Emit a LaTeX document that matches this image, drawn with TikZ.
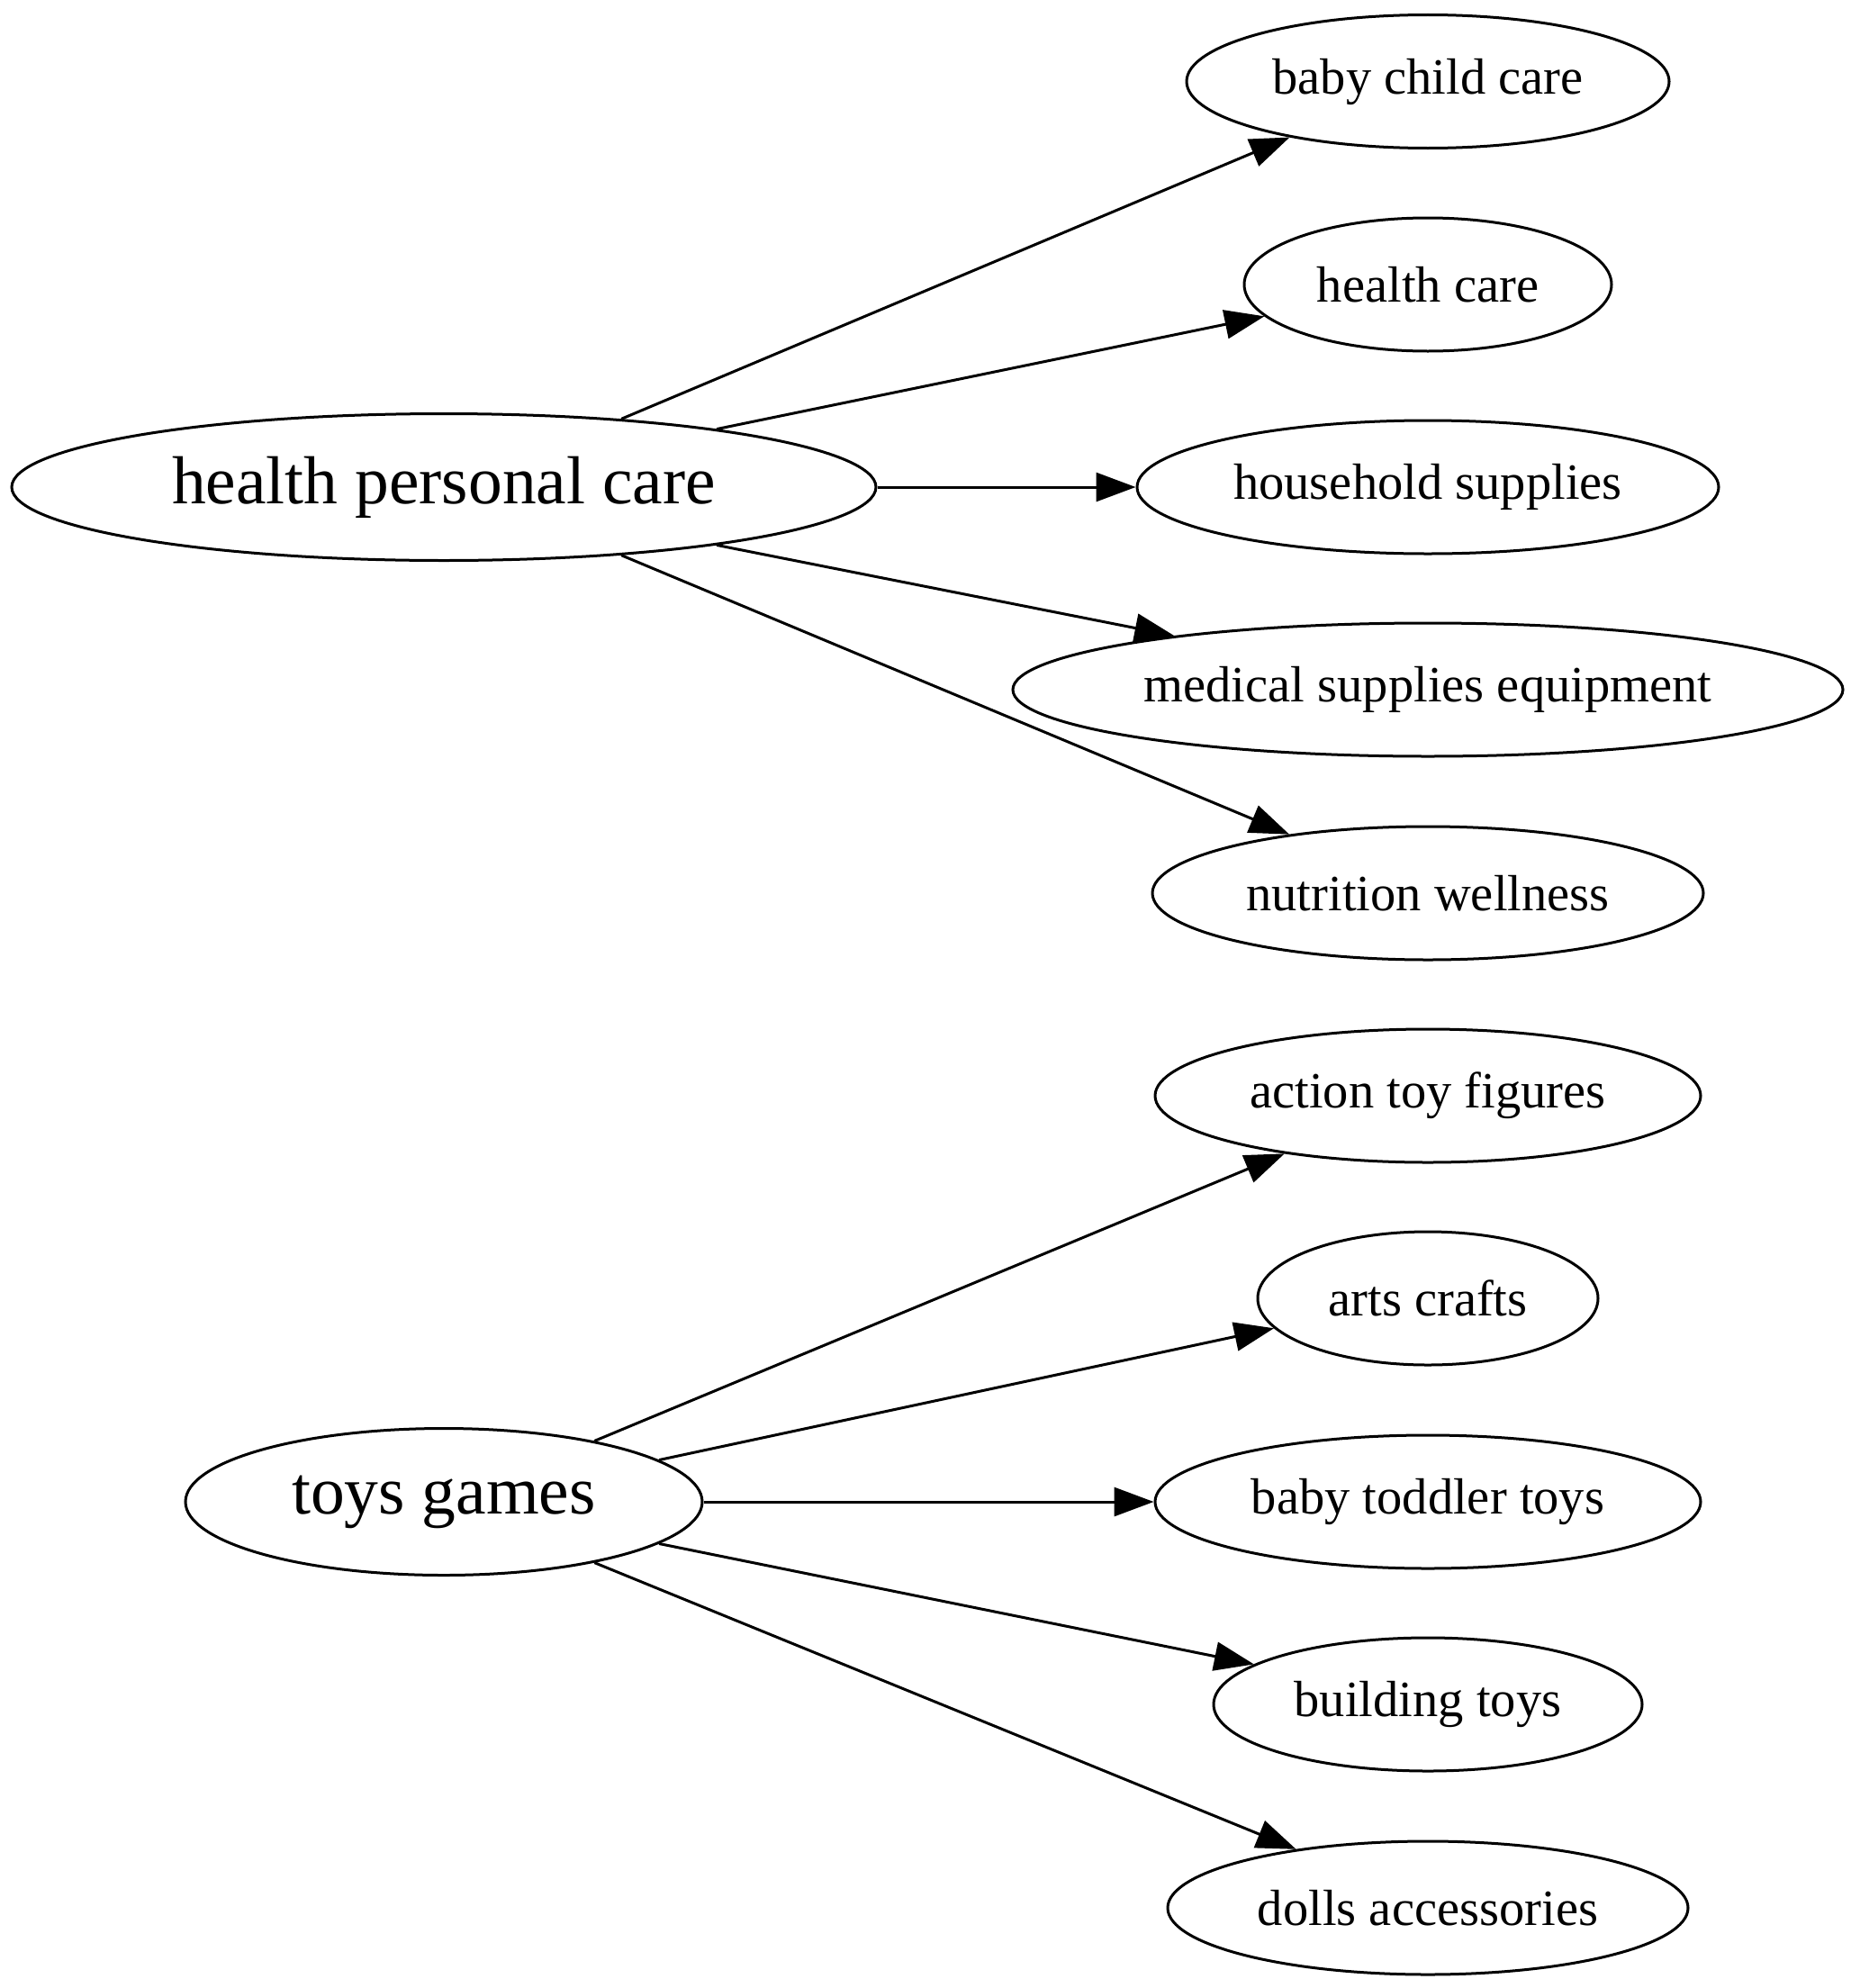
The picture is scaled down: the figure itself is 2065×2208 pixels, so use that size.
\documentclass[tikz,border=0pt]{standalone}
\usepackage{fontspec}
\setmainfont{Liberation Serif}
\usetikzlibrary{arrows.meta,shapes.geometric}
\begin{document}
\begin{tikzpicture}[x=1pt,y=-1pt,
  leaf/.style={draw, ellipse, line width=3pt, inner sep=0pt, minimum height=148pt,
    font=\fontsize{56.5}{68}\selectfont},
  root/.style={draw, ellipse, line width=3pt, inner sep=0pt, minimum height=163pt,
    font=\fontsize{75.5}{90}\selectfont},
  edge/.style={line width=3pt, -{Triangle[length=44pt,width=32pt]}}]
\useasboundingbox (0,0) rectangle (2065,2208);
% roots
\node[root, minimum width=960pt] (hpc) at (493,541) {health personal care};
\node[root, minimum width=574pt] (tg) at (493,1668) {toys games};
% leaves
\node[leaf, minimum width=536pt] (bcc) at (1586,90.5) {baby child care};
\node[leaf, minimum width=408pt] (hc) at (1586,316) {health care};
\node[leaf, minimum width=646pt] (hs) at (1586,541) {household supplies};
\node[leaf, minimum width=922pt] (med) at (1586,766) {medical supplies equipment};
\node[leaf, minimum width=612pt] (nut) at (1586,992) {nutrition wellness};
\node[leaf, minimum width=606pt] (atf) at (1586,1217) {action toy figures};
\node[leaf, minimum width=378pt] (ac) at (1586,1442) {arts crafts};
\node[leaf, minimum width=606pt] (btt) at (1586,1668) {baby toddler toys};
\node[leaf, minimum width=476pt] (bt) at (1586,1893) {building toys};
\node[leaf, minimum width=578pt] (da) at (1586,2119) {dolls accessories};
% edges
\draw[edge] (hpc.21.8) -- (bcc.202.6);
\draw[edge] (hpc.12) -- (hc.191.6);
\draw[edge] (hpc.0) -- (hs.180);
\draw[edge] (hpc.-12) -- (med.168.3);
\draw[edge] (hpc.-21.8) -- (nut.157.6);
\draw[edge] (tg.22.2) -- (atf.202);
\draw[edge] (tg.11.9) -- (ac.191.4);
\draw[edge] (tg.0) -- (btt.180);
\draw[edge] (tg.-11.9) -- (bt.167.5);
\draw[edge] (tg.-22.2) -- (da.156.5);
\end{tikzpicture}
\end{document}
